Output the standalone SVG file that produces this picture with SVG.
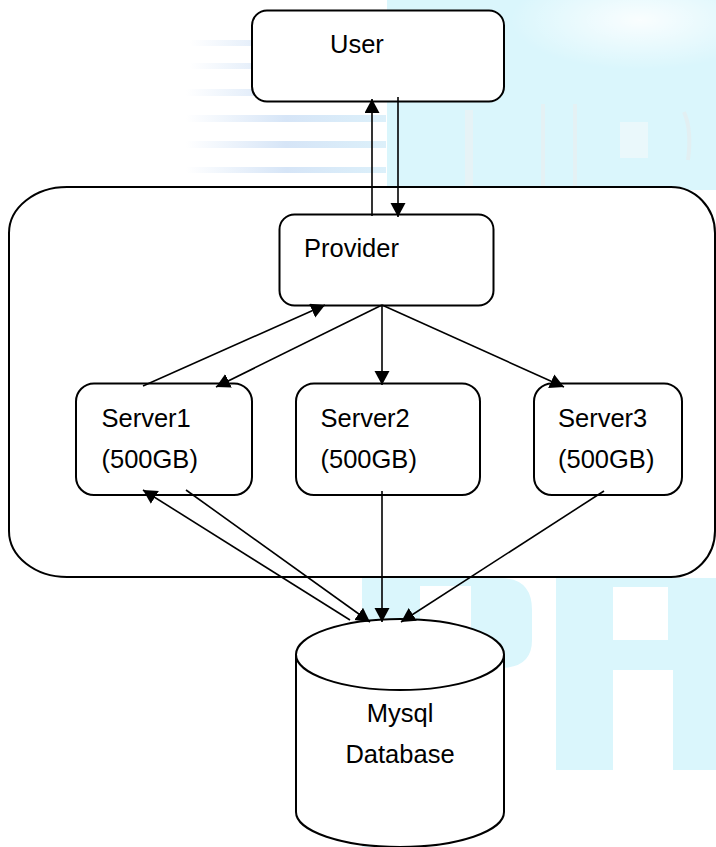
<svg xmlns="http://www.w3.org/2000/svg" width="716" height="847" viewBox="0 0 716 847">
<style>
.box{fill:#fff;stroke:#000;stroke-width:2}
.lbl{font-family:"Liberation Sans",Arial,sans-serif;font-size:25.5px;fill:#000}
.mid{text-anchor:middle}
.edge{stroke:#000;stroke-width:1.6;fill:none;marker-end:url(#ah)}
.wm{fill:#daf6fc}
.stripe{fill:url(#sg)}
</style>
<defs>
<marker id="ah" markerUnits="userSpaceOnUse" markerWidth="16" markerHeight="16" refX="14" refY="7.5" orient="auto">
<path d="M0,0 L14,7.5 L0,15 Z" fill="#000"/>
</marker>
<linearGradient id="sg" x1="0" y1="0" x2="1" y2="0">
<stop offset="0" stop-color="#ffffff"/>
<stop offset="0.5" stop-color="#d6e5f7"/>
<stop offset="1" stop-color="#dcf0fa"/>
</linearGradient>
<radialGradient id="wg" cx="0.5" cy="0.5" r="0.5">
<stop offset="0" stop-color="#ffffff" stop-opacity="0.85"/>
<stop offset="1" stop-color="#ffffff" stop-opacity="0"/>
</radialGradient>
</defs>

<g id="watermark">
<rect class="stripe" x="190" y="40" width="200" height="6"/>
<rect class="stripe" x="190" y="63" width="200" height="6"/>
<rect class="stripe" x="186" y="89" width="200" height="7"/>
<rect class="stripe" x="186" y="115" width="200" height="7"/>
<rect class="stripe" x="186" y="141" width="200" height="7"/>
<rect class="stripe" x="186" y="167" width="200" height="6"/>
<rect class="wm" x="387" y="0" width="329" height="190"/>
<ellipse cx="640" cy="20" rx="130" ry="50" fill="url(#wg)"/>
<rect x="465" y="110" width="8" height="78" fill="#e6f3f6"/>
<rect x="541" y="104" width="4" height="84" fill="#e4f1f4"/>
<rect x="573" y="104" width="4" height="84" fill="#e4f1f4"/>
<path d="M620,122 H648 V158 H620 Z" fill="#eaf8fb"/>
<path d="M684,112 Q692,130 688,160" stroke="#e2eff2" stroke-width="4" fill="none"/>
<path class="wm" d="M362,578 H500 Q532,578 532,610 V640 Q532,668 500,668 H420 V847 H362 Z M420,586 V660 H471 V586 Z" fill-rule="evenodd"/>
<path class="wm" d="M556,578 H716 V770 H673 V670 H613 V770 H556 Z M613,587 V640 H668 V587 Z" fill-rule="evenodd"/>
</g>

<g id="cloud">
<path class="box" d="M67,187 H671 A44,46 0 0 1 715,233 V531 A44,46 0 0 1 671,577 H67 A58,46 0 0 1 9,531 V233 A58,46 0 0 1 67,187 Z"/>
</g>

<g id="user">
<rect class="box" x="252" y="10.5" width="252" height="91" rx="15"/>
<text class="lbl" x="330" y="52.5">User</text>
</g>

<g id="provider">
<rect class="box" x="279.5" y="214.5" width="214" height="91" rx="15"/>
<text class="lbl" x="304" y="256.5">Provider</text>
</g>

<g id="server1">
<rect class="box" x="76" y="383.5" width="176" height="111.5" rx="18"/>
<text class="lbl" x="101.5" y="427">Server1</text>
<text class="lbl" x="101.5" y="468">(500GB)</text>
</g>

<g id="server2">
<rect class="box" x="296" y="383.5" width="184" height="111.5" rx="18"/>
<text class="lbl" x="320.5" y="427">Server2</text>
<text class="lbl" x="320.5" y="468">(500GB)</text>
</g>

<g id="server3">
<rect class="box" x="534" y="383.5" width="148" height="111.5" rx="18"/>
<text class="lbl" x="558" y="427">Server3</text>
<text class="lbl" x="558" y="468">(500GB)</text>
</g>

<g id="database">
<path class="box" d="M296,654.5 V812 A104,35 0 0 0 504,812 V654.5"/>
<ellipse class="box" cx="400" cy="654.5" rx="104" ry="35.5"/>
<text class="lbl mid" x="400" y="722">Mysql</text>
<text class="lbl mid" x="400" y="763">Database</text>
</g>

<g id="connectors">
<line class="edge" x1="372" y1="216" x2="372" y2="99"/>
<line class="edge" x1="398" y1="97" x2="398" y2="217"/>
<line class="edge" x1="143" y1="386" x2="325" y2="305"/>
<line class="edge" x1="382" y1="305" x2="216" y2="387"/>
<line class="edge" x1="382" y1="305" x2="382" y2="385"/>
<line class="edge" x1="382" y1="305" x2="564" y2="387"/>
<line class="edge" x1="350" y1="620" x2="143" y2="490"/>
<line class="edge" x1="186" y1="490" x2="370" y2="622"/>
<line class="edge" x1="382" y1="491" x2="382" y2="622"/>
<line class="edge" x1="604" y1="491" x2="401" y2="622"/>
</g>
</svg>
